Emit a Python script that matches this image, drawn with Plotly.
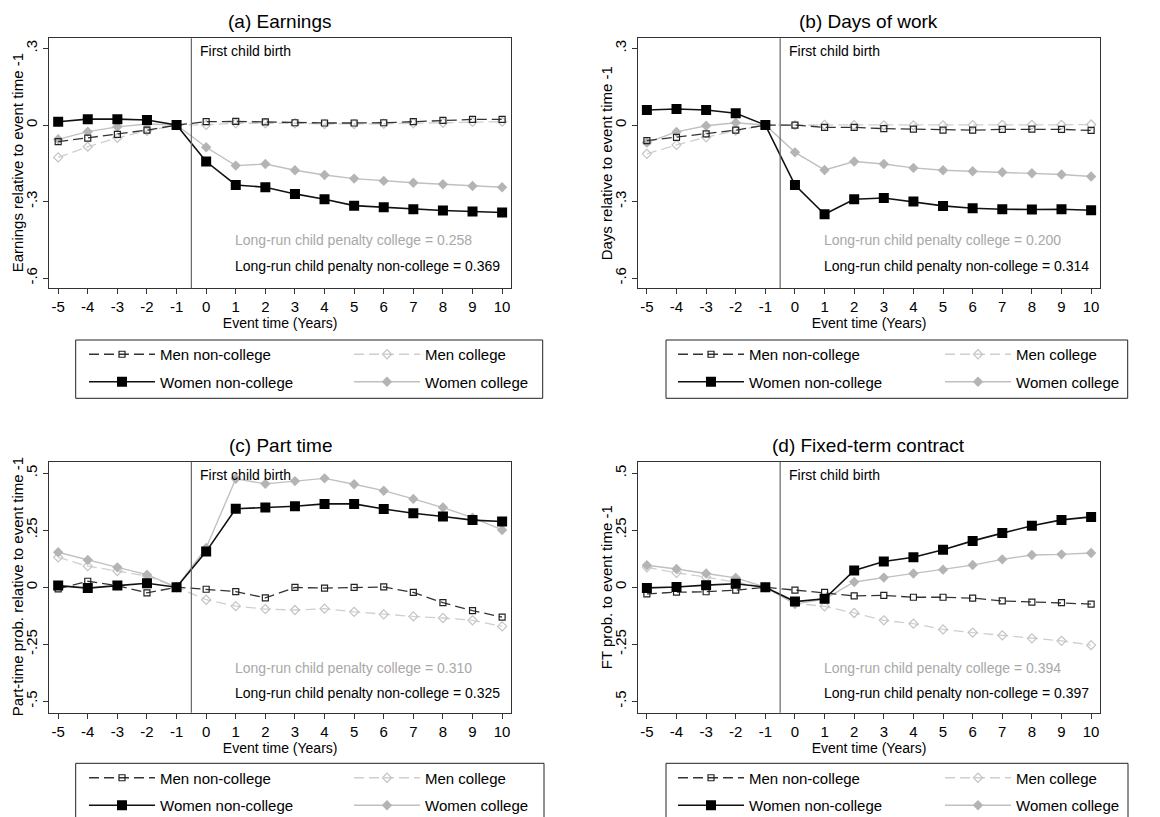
import plotly.graph_objects as go

event_time = list(range(-5, 11))

panel_titles = ["(a) Earnings", "(b) Days of work", "(c) Part time", "(d) Fixed-term contract"]
y_titles = ["Earnings relative to event time -1", "Days relative to event time -1",
            "Part-time prob. relative to event time -1", "FT prob. to event time -1"]
penalty_college = ["0.258", "0.200", "0.310", "0.394"]
penalty_noncollege = ["0.369", "0.314", "0.325", "0.397"]

series_names = ["Men non-college", "Men college", "Women non-college", "Women college"]

# (a) Earnings
a_men_nc = [-0.065, -0.051, -0.037, -0.020, 0, 0.013, 0.014, 0.012, 0.009, 0.008, 0.008, 0.009, 0.013, 0.018, 0.022, 0.022]
a_men_c = [-0.127, -0.085, -0.050, -0.023, 0, 0.001, 0.007, 0.007, 0.007, 0.004, 0.004, 0.005, 0.007, 0.009, 0.012, 0.013]
a_women_nc = [0.013, 0.023, 0.023, 0.020, 0, -0.143, -0.235, -0.244, -0.270, -0.291, -0.316, -0.322, -0.330, -0.335, -0.339, -0.343]
a_women_c = [-0.056, -0.026, -0.007, 0.004, 0, -0.087, -0.159, -0.153, -0.177, -0.196, -0.210, -0.219, -0.226, -0.232, -0.239, -0.244]

# (b) Days of work
b_men_nc = [-0.061, -0.048, -0.035, -0.020, 0, 0.000, -0.009, -0.009, -0.014, -0.016, -0.020, -0.020, -0.017, -0.016, -0.017, -0.021]
b_men_c = [-0.113, -0.078, -0.048, -0.022, 0, 0.000, 0.001, 0.000, -0.001, -0.001, -0.001, 0.000, 0.001, 0.001, 0.001, 0.002]
b_women_nc = [0.059, 0.063, 0.059, 0.046, 0, -0.235, -0.350, -0.291, -0.286, -0.300, -0.317, -0.326, -0.330, -0.331, -0.330, -0.334]
b_women_c = [-0.069, -0.027, -0.003, 0.009, 0, -0.107, -0.176, -0.143, -0.153, -0.168, -0.177, -0.181, -0.185, -0.189, -0.194, -0.202]

# (c) Part time
c_men_nc = [-0.007, 0.026, 0.007, -0.025, 0, -0.009, -0.019, -0.047, -0.001, -0.004, -0.001, 0.001, -0.023, -0.068, -0.103, -0.131]
c_men_c = [0.131, 0.092, 0.071, 0.049, 0, -0.055, -0.083, -0.096, -0.100, -0.094, -0.108, -0.119, -0.128, -0.135, -0.145, -0.172]
c_women_nc = [0.007, -0.004, 0.007, 0.017, 0, 0.156, 0.344, 0.349, 0.355, 0.365, 0.365, 0.343, 0.324, 0.310, 0.294, 0.288]
c_women_c = [0.153, 0.119, 0.087, 0.055, 0, 0.172, 0.475, 0.453, 0.465, 0.477, 0.451, 0.423, 0.387, 0.349, 0.305, 0.251]

# (d) Fixed-term contract
d_men_nc = [-0.029, -0.022, -0.020, -0.013, 0, -0.013, -0.023, -0.038, -0.036, -0.044, -0.044, -0.048, -0.060, -0.065, -0.068, -0.074]
d_men_c = [0.087, 0.063, 0.044, 0.022, 0, -0.071, -0.084, -0.113, -0.145, -0.160, -0.185, -0.199, -0.211, -0.224, -0.235, -0.254]
d_women_nc = [-0.003, 0.001, 0.009, 0.015, 0, -0.063, -0.051, 0.073, 0.113, 0.131, 0.164, 0.203, 0.237, 0.269, 0.295, 0.308]
d_women_c = [0.096, 0.080, 0.060, 0.041, 0, -0.074, -0.052, 0.023, 0.042, 0.060, 0.077, 0.097, 0.122, 0.141, 0.144, 0.150]

ytick_vals_top = [-0.6, -0.3, 0, 0.3]
ytick_text_top = ["-.6", "-.3", "0", ".3"]
ytick_vals_bot = [-0.5, -0.25, 0, 0.25, 0.5]
ytick_text_bot = ["-.5", "-.25", "0", ".25", ".5"]

panels_data = [
    (a_men_nc, a_men_c, a_women_nc, a_women_c),
    (b_men_nc, b_men_c, b_women_nc, b_women_c),
    (c_men_nc, c_men_c, c_women_nc, c_women_c),
    (d_men_nc, d_men_c, d_women_nc, d_women_c),
]

# the page body has an 8px margin, so the figure is offset by 8px
OFF = 8
W, H = 1160 - OFF, 817 - OFF
FONT = "Liberation Sans, Arial, sans-serif"


def px(v):
    return (v - OFF) / W


def py(v):
    return 1 - (v - OFF) / H


x_domains = [[px(49.3), px(511)], [px(638), px(1100)]] * 2
y_domains = [[py(288.3), py(38.3)]] * 2 + [[py(712.7), py(461.7)]] * 2
y_ranges = [[-0.64, 0.34]] * 2 + [[-0.55, 0.55]] * 2
title_y = [py(21.7), py(21.7), py(445), py(445)]
ytitle_x = [px(17), px(606), px(17), px(606)]
pen_y = [(0.193, 0.090), (0.193, 0.090), (0.177, 0.080), (0.177, 0.080)]

# legend boxes (left, top, right, bottom) in window pixels; legend column x and top
legend_boxes = [(75.7, 340, 542.7, 398.3), (666, 340, 1127.7, 398.3),
                (75.7, 763.3, 544, 840), (666, 763.3, 1128, 840)]
legend_cols = [(84, 349), (673, 940), (84, 349), (673, 940)]
legend_top = [338, 338, 761.5, 761.5]

styles = {
    "Men non-college": dict(line=dict(color="#333333", width=1.3, dash="10px,5px"),
                            marker=dict(symbol="square-open", size=6, color="#222222", line=dict(width=1.2))),
    "Men college": dict(line=dict(color="#cfcfcf", width=1.3, dash="10px,5px"),
                        marker=dict(symbol="diamond-open", size=7, color="#c4c4c4", line=dict(width=1.2))),
    "Women non-college": dict(line=dict(color="#111111", width=1.6),
                              marker=dict(symbol="square", size=10, color="#000000")),
    "Women college": dict(line=dict(color="#c0c0c0", width=1.4),
                          marker=dict(symbol="diamond", size=8, color="#b4b4b4")),
}
legend_column = {"Men non-college": 0, "Women non-college": 0, "Men college": 1, "Women college": 1}
legend_rank = {"Men non-college": 1, "Men college": 1, "Women non-college": 2, "Women college": 2}
draw_order = ["Men college", "Women college", "Men non-college", "Women non-college"]

fig = go.Figure()
layout = dict(width=W, height=H, margin=dict(l=0, r=0, t=0, b=0, autoexpand=False),
              paper_bgcolor="white", plot_bgcolor="white",
              font=dict(family=FONT, size=14, color="#000000"))
annotations = []
shapes = []

for i in range(4):
    sfx = "" if i == 0 else str(i + 1)
    xref, yref = "x" + sfx, "y" + sfx
    data = dict(zip(series_names, panels_data[i]))
    for name in draw_order:
        col = legend_column[name]
        leg_idx = 2 * i + col + 1
        leg = "legend" if leg_idx == 1 else "legend" + str(leg_idx)
        fig.add_trace(go.Scatter(
            x=event_time, y=data[name], mode="lines+markers", name=name,
            xaxis=xref, yaxis=yref, legend=leg, legendrank=legend_rank[name],
            legendgroup=f"p{i}-{name}", **styles[name]))
    for col in range(2):
        leg_idx = 2 * i + col + 1
        leg = "legend" if leg_idx == 1 else "legend" + str(leg_idx)
        layout[leg] = dict(x=px(legend_cols[i][col]), y=py(legend_top[i]),
                           xanchor="left", yanchor="top", orientation="v",
                           itemwidth=66, tracegroupgap=5, borderwidth=0,
                           bgcolor="rgba(0,0,0,0)", font=dict(size=15, family=FONT),
                           traceorder="grouped")
    bl, bt, br, bb = legend_boxes[i]
    shapes.append(dict(type="rect", xref="paper", yref="paper",
                       x0=px(bl), x1=px(br), y0=py(bb), y1=py(bt),
                       line=dict(color="#222222", width=1), fillcolor="rgba(0,0,0,0)", layer="below"))
    layout["xaxis" + sfx] = dict(
        domain=x_domains[i], anchor=yref, range=[-5.3, 10.3],
        tickmode="array", tickvals=event_time, ticktext=[str(v) for v in event_time],
        ticks="outside", ticklen=5, tickcolor="#333", showgrid=False, zeroline=False,
        showline=True, linecolor="#333", linewidth=1, mirror=True, automargin=False,
        tickfont=dict(size=15), title=dict(text="Event time (Years)", font=dict(size=14), standoff=2))
    yv = ytick_vals_top if i < 2 else ytick_vals_bot
    yt = ytick_text_top if i < 2 else ytick_text_bot
    layout["yaxis" + sfx] = dict(
        domain=y_domains[i], anchor=xref, range=y_ranges[i],
        tickmode="array", tickvals=yv, ticktext=yt, tickangle=-90,
        ticks="outside", ticklen=5, tickcolor="#333", showgrid=False, zeroline=False,
        showline=True, linecolor="#333", linewidth=1, mirror=True, automargin=False,
        tickfont=dict(size=15))
    annotations.append(dict(text=y_titles[i], xref="paper", yref="paper",
                            x=ytitle_x[i], y=sum(y_domains[i]) / 2, textangle=-90,
                            xanchor="center", yanchor="middle", showarrow=False,
                            font=dict(size=15)))
    annotations.append(dict(text=panel_titles[i], xref="paper", yref="paper",
                            x=sum(x_domains[i]) / 2, y=title_y[i], xanchor="center", yanchor="middle",
                            showarrow=False, font=dict(size=19)))
    shapes.append(dict(type="line", xref=xref, yref=yref + " domain", x0=-0.5, x1=-0.5, y0=0, y1=1,
                       line=dict(color="#666666", width=1.2)))
    annotations.append(dict(text="First child birth", xref=xref, yref=yref + " domain",
                            x=-0.5, y=1, xanchor="left", yanchor="top", xshift=7, yshift=-3,
                            showarrow=False, font=dict(size=14)))
    annotations.append(dict(text="Long-run child penalty college = " + penalty_college[i],
                            xref=xref, yref=yref + " domain", x=0.9, y=pen_y[i][0],
                            xanchor="left", yanchor="middle", showarrow=False,
                            font=dict(size=14, color="#a8a8a8")))
    annotations.append(dict(text="Long-run child penalty non-college = " + penalty_noncollege[i],
                            xref=xref, yref=yref + " domain", x=0.9, y=pen_y[i][1],
                            xanchor="left", yanchor="middle", showarrow=False,
                            font=dict(size=14, color="#000000")))

layout["annotations"] = annotations
layout["shapes"] = shapes
fig.update_layout(**layout)
fig.write_html("out.html")
